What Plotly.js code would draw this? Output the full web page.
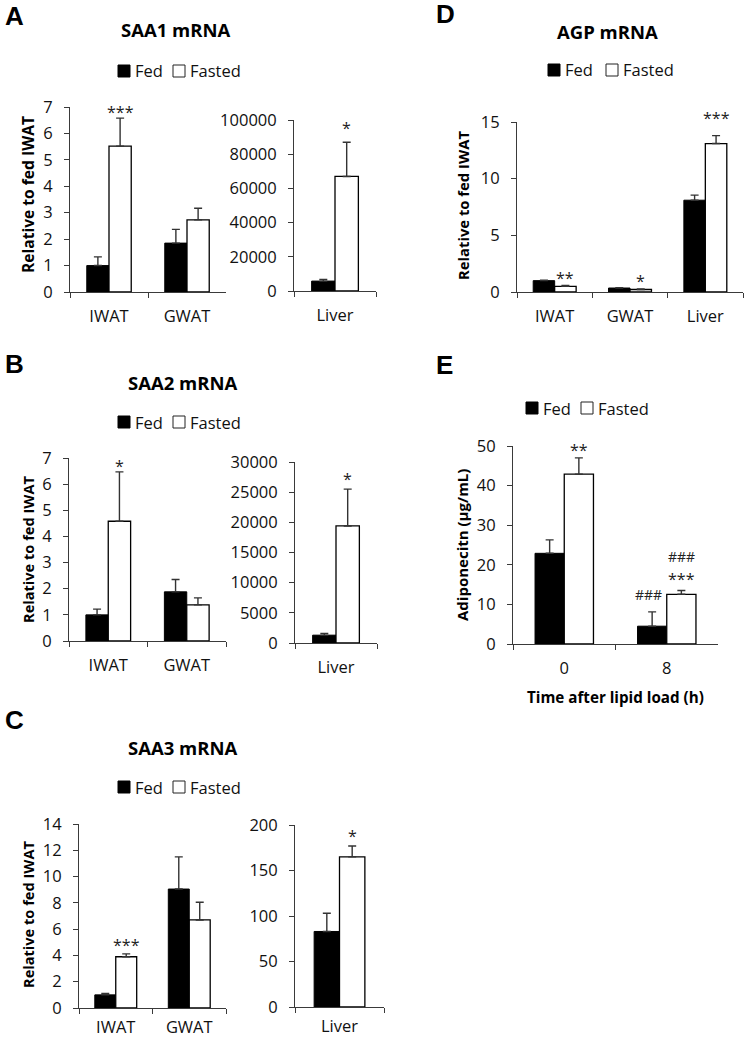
<!DOCTYPE html>
<html><head><meta charset="utf-8">
<script src="https://cdn.plot.ly/plotly-3.0.1.min.js"></script>
<style>html,body{margin:0;padding:0;background:#fff}</style>
</head><body><div id="chart" style="width:745px;height:1039px"></div>
<script>
// ---------------- data ----------------
const seriesNames = ['Fed', 'Fasted'];
const fatCats = ['IWAT', 'GWAT'];
const liverCats = ['Liver'];
const agpCats = ['IWAT', 'GWAT', 'Liver'];
const timeCats = ['0', '8'];

// A: SAA1 mRNA
const saa1FatFed = [1.0, 1.85];
const saa1FatFedErr = [0.33, 0.52];
const saa1FatFasted = [5.52, 2.73];
const saa1FatFastedErr = [1.06, 0.44];
const saa1LiverFed = [5800];
const saa1LiverFedErr = [1000];
const saa1LiverFasted = [67000];
const saa1LiverFastedErr = [20000];

// B: SAA2 mRNA
const saa2FatFed = [1.0, 1.88];
const saa2FatFedErr = [0.22, 0.47];
const saa2FatFasted = [4.58, 1.38];
const saa2FatFastedErr = [1.89, 0.27];
const saa2LiverFed = [1300];
const saa2LiverFedErr = [300];
const saa2LiverFasted = [19400];
const saa2LiverFastedErr = [6100];

// C: SAA3 mRNA
const saa3FatFed = [1.0, 9.05];
const saa3FatFedErr = [0.1, 2.45];
const saa3FatFasted = [3.9, 6.7];
const saa3FatFastedErr = [0.22, 1.35];
const saa3LiverFed = [83];
const saa3LiverFedErr = [20];
const saa3LiverFasted = [165];
const saa3LiverFastedErr = [12];

// D: AGP mRNA
const agpFed = [1.0, 0.35, 8.1];
const agpFedErr = [0.05, 0.03, 0.45];
const agpFasted = [0.5, 0.22, 13.1];
const agpFastedErr = [0.08, 0.05, 0.7];

// E: Adiponectin
const adipoFed = [22.9, 4.5];
const adipoFedErr = [3.4, 3.6];
const adipoFasted = [42.9, 12.55];
const adipoFastedErr = [4.1, 0.95];

// significance marks: category index, series (0 Fed, 1 Fasted), text, y value, extra pixel lift
const saa1FatSig = {cat: [0], ser: [1], text: ['***'], y: [6.93], lift: [0]};
const saa1LiverSig = {cat: [0], ser: [1], text: ['*'], y: [97000], lift: [0]};
const saa2FatSig = {cat: [0], ser: [1], text: ['*'], y: [6.82], lift: [0]};
const saa2LiverSig = {cat: [0], ser: [1], text: ['*'], y: [27700], lift: [0]};
const saa3FatSig = {cat: [0], ser: [1], text: ['***'], y: [5.04], lift: [0]};
const saa3LiverSig = {cat: [0], ser: [1], text: ['*'], y: [191], lift: [0]};
const agpSig = {cat: [0, 1, 2], ser: [1, 1, 1], text: ['**', '*', '***'], y: [1.5, 1.21, 15], lift: [0, 0, 7]};
const adipoSig = {cat: [0, 1, 1, 1], ser: [1, 1, 1, 0], text: ['**', '***', '###', '###'], y: [49.7, 17.2, 22.0, 12.6], lift: [0, 0, 0, 0]};

// text
const panelLetters = ['A', 'B', 'C', 'D', 'E'];
const panelTitles = ['SAA1 mRNA', 'SAA2 mRNA', 'SAA3 mRNA', 'AGP mRNA'];
const yTitleRel = 'Relative to fed IWAT';
const yTitleAdipo = 'Adiponecitn (μg/mL)';
const xTitleAdipo = 'Time after lipid load (h)';

// ---------------- layout helpers ----------------
const W = 745, H = 1039;
const fx = p => p / W;
const fy = p => 1 - p / H;
const BARGAP = 0.43;
const OFF = (1 - BARGAP) / 4;
const AX = '#3a3a3a';
const TXT = '#111';
const FONT = 'Open Sans, sans-serif';
const TICK = 16.5;

const subplots = [
  {cats: fatCats, fed: saa1FatFed, fedErr: saa1FatFedErr, fas: saa1FatFasted, fasErr: saa1FatFastedErr, sig: saa1FatSig, range: [0, 7], dtick: 1, box: [70, 226, 107, 292], labPad: 9},
  {cats: liverCats, fed: saa1LiverFed, fedErr: saa1LiverFedErr, fas: saa1LiverFasted, fasErr: saa1LiverFastedErr, sig: saa1LiverSig, range: [0, 100000], dtick: 20000, box: [294, 376, 120, 291], labPad: 9},
  {cats: fatCats, fed: saa2FatFed, fedErr: saa2FatFedErr, fas: saa2FatFasted, fasErr: saa2FatFastedErr, sig: saa2FatSig, range: [0, 7], dtick: 1, box: [69, 226, 458, 641], labPad: 9},
  {cats: liverCats, fed: saa2LiverFed, fedErr: saa2LiverFedErr, fas: saa2LiverFasted, fasErr: saa2LiverFastedErr, sig: saa2LiverSig, range: [0, 30000], dtick: 5000, box: [295, 377, 462, 643], labPad: 9},
  {cats: fatCats, fed: saa3FatFed, fedErr: saa3FatFedErr, fas: saa3FatFasted, fasErr: saa3FatFastedErr, sig: saa3FatSig, range: [0, 14], dtick: 2, box: [79, 226, 824, 1008], labPad: 4},
  {cats: liverCats, fed: saa3LiverFed, fedErr: saa3LiverFedErr, fas: saa3LiverFasted, fasErr: saa3LiverFastedErr, sig: saa3LiverSig, range: [0, 200], dtick: 50, box: [295, 384, 825, 1007], labPad: 4},
  {cats: agpCats, fed: agpFed, fedErr: agpFedErr, fas: agpFasted, fasErr: agpFastedErr, sig: agpSig, range: [0, 15], dtick: 5, box: [517, 743, 122, 292], labPad: 9},
  {cats: timeCats, fed: adipoFed, fedErr: adipoFedErr, fas: adipoFasted, fasErr: adipoFastedErr, sig: adipoSig, range: [0, 50], dtick: 10, box: [513, 718, 446, 644], labPad: 9}
];

const traces = [];
const layout = {
  width: W, height: H,
  margin: {l: 0, r: 0, t: 0, b: 0},
  paper_bgcolor: '#fff', plot_bgcolor: 'rgba(0,0,0,0)',
  showlegend: false,
  barmode: 'group', bargap: BARGAP, bargroupgap: 0,
  font: {family: FONT, size: 16, color: TXT},
  annotations: [], shapes: []
};

subplots.forEach((sp, i) => {
  const n = i + 1;
  const xa = n === 1 ? 'x' : 'x' + n;
  const ya = n === 1 ? 'y' : 'y' + n;
  const errStyle = (arr) => ({type: 'data', array: arr, arrayminus: arr.map(() => 0), symmetric: false,
    color: '#333', thickness: 1.4, width: 4});
  traces.push({type: 'bar', name: seriesNames[0], x: sp.cats, y: sp.fed, xaxis: xa, yaxis: ya,
    marker: {color: '#000', line: {color: '#000', width: 1}}, error_y: errStyle(sp.fedErr),
    showlegend: false, hoverinfo: 'skip', cliponaxis: false});
  traces.push({type: 'bar', name: seriesNames[1], x: sp.cats, y: sp.fas, xaxis: xa, yaxis: ya,
    marker: {color: '#fff', line: {color: '#000', width: 1.3}}, error_y: errStyle(sp.fasErr),
    showlegend: false, hoverinfo: 'skip', cliponaxis: false});
  const [x0, x1, y0, y1] = sp.box;
  layout[n === 1 ? 'xaxis' : 'xaxis' + n] = {
    domain: [fx(x0), fx(x1)], anchor: ya, type: 'category', categoryarray: sp.cats,
    range: [-0.5, sp.cats.length - 0.5],
    showline: true, linecolor: AX, linewidth: 1, mirror: false,
    ticks: 'outside', tickson: 'boundaries', ticklen: 5, tickcolor: AX, tickwidth: 1,
    showgrid: false, zeroline: false, fixedrange: true,
    tickfont: {family: FONT, size: TICK, color: TXT}, ticklabelstandoff: sp.labPad
  };
  layout[n === 1 ? 'yaxis' : 'yaxis' + n] = {
    domain: [fy(y1), fy(y0)], anchor: xa, range: sp.range, dtick: sp.dtick, tick0: 0,
    tickformat: 'd',
    showline: true, linecolor: AX, linewidth: 1,
    ticks: 'outside', ticklen: 5, tickcolor: AX, tickwidth: 1,
    showgrid: false, zeroline: false, fixedrange: true,
    tickfont: {family: FONT, size: TICK, color: TXT}, ticklabelstandoff: 8
  };
  sp.sig.text.forEach((t, k) => {
    const hash = t.indexOf('#') >= 0;
    layout.annotations.push({xref: xa, yref: ya, x: sp.sig.cat[k] + (sp.sig.ser[k] === 1 ? OFF : -OFF),
      y: sp.sig.y[k], text: t, showarrow: false, xanchor: 'center', yanchor: 'middle',
      yshift: (hash ? 0 : -3) + sp.sig.lift[k], xshift: (hash && sp.sig.ser[k] === 0) ? -4 : 0,
      font: {family: FONT, size: hash ? 14 : 16, color: '#222'}});
  });
});

// panel letters
const letterPos = [[3, 16], [3, 364], [3, 720], [434, 14], [434, 365]];
panelLetters.forEach((L, k) => {
  layout.annotations.push({xref: 'paper', yref: 'paper', x: fx(letterPos[k][0]), y: fy(letterPos[k][1]),
    text: '<b>' + L + '</b>', showarrow: false, xanchor: 'left', yanchor: 'middle',
    font: {family: 'Liberation Sans, Arial, sans-serif', size: 26, color: '#000'}});
});

// panel titles
const titlePos = [[175.5, 29], [183, 382], [183, 747], [607, 31]];
panelTitles.forEach((t, k) => {
  layout.annotations.push({xref: 'paper', yref: 'paper', x: fx(titlePos[k][0]), y: fy(titlePos[k][1]),
    text: '<b>' + t + '</b>', showarrow: false, xanchor: 'center', yanchor: 'middle',
    font: {family: FONT, size: 18.5, color: '#000'}});
});

// legends (square left x, center y, fasted offset)
const legendPos = [[118, 71, 55], [118, 422, 55], [118, 787, 55], [548, 70, 58], [526, 408, 55]];
legendPos.forEach(([lx, ly, off]) => {
  layout.shapes.push({type: 'rect', xref: 'paper', yref: 'paper', x0: fx(lx), x1: fx(lx + 12), y0: fy(ly + 6), y1: fy(ly - 6),
    fillcolor: '#000', line: {color: '#000', width: 1}});
  layout.shapes.push({type: 'rect', xref: 'paper', yref: 'paper', x0: fx(lx + off), x1: fx(lx + off + 12), y0: fy(ly + 6), y1: fy(ly - 6),
    fillcolor: '#fff', line: {color: '#222', width: 1}});
  layout.annotations.push({xref: 'paper', yref: 'paper', x: fx(lx + 15), y: fy(ly), text: seriesNames[0], showarrow: false,
    xanchor: 'left', yanchor: 'middle', font: {family: FONT, size: 16.5, color: TXT}});
  layout.annotations.push({xref: 'paper', yref: 'paper', x: fx(lx + off + 15), y: fy(ly), text: seriesNames[1], showarrow: false,
    xanchor: 'left', yanchor: 'middle', font: {family: FONT, size: 16.5, color: TXT}});
});

// axis titles
const yTitles = [[yTitleRel, 28, 195, 15.6], [yTitleRel, 28, 550, 14.6], [yTitleRel, 28, 915, 14.6], [yTitleRel, 463, 206, 14.8], [yTitleAdipo, 462, 545, 15]];
yTitles.forEach(([t, x, y, s]) => {
  layout.annotations.push({xref: 'paper', yref: 'paper', x: fx(x), y: fy(y), text: '<b>' + t + '</b>', textangle: -90,
    showarrow: false, xanchor: 'center', yanchor: 'middle', font: {family: FONT, size: s, color: '#000'}});
});
layout.annotations.push({xref: 'paper', yref: 'paper', x: fx(615.5), y: fy(697), text: '<b>' + xTitleAdipo + '</b>',
  showarrow: false, xanchor: 'center', yanchor: 'middle', font: {family: FONT, size: 15.2, color: '#000'}});

Plotly.newPlot('chart', traces, layout, {staticPlot: true, displayModeBar: false});
</script>
</body></html>
